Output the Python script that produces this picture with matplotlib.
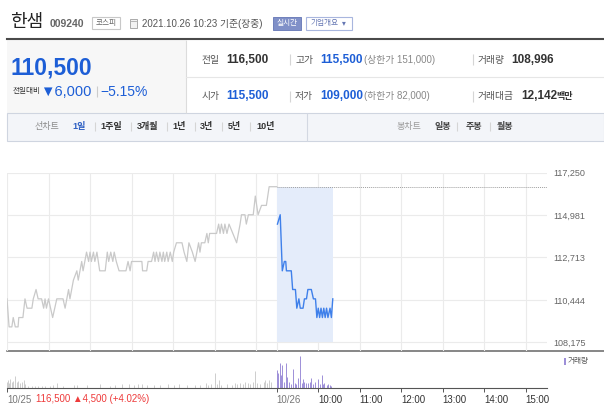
import matplotlib
matplotlib.use("Agg")
import matplotlib.pyplot as plt
from matplotlib.patches import Rectangle

plt.rcParams['font.family'] = ['Liberation Sans', 'Noto Sans CJK KR', 'DejaVu Sans']

W, H = 604, 416

# price scale (right labels) and previous close
price_ticks = [108175, 110444, 112713, 114981, 117250]
prev_close = 116500

# 10/25 session: minutes after 09:00, price
prev_min = [0, 3, 7, 9, 12, 16, 17, 23, 26, 29, 36, 38, 42, 45, 50, 53, 55, 57, 60,
            66, 69, 72, 81, 84, 89, 91, 96, 101, 103, 108, 110, 115, 118, 120, 122,
            125, 127, 130, 132, 134, 142, 145, 147, 150, 153, 155, 158, 162, 172, 175,
            178, 180, 195, 196, 202, 204, 209, 212, 214, 216, 219, 221, 224, 226, 228,
            231, 233, 236, 239, 241, 245, 253, 256, 260, 263, 268, 272, 277, 279, 281,
            286, 289, 291, 293, 303, 306, 308, 310, 313, 315, 318, 321, 332, 337, 339,
            344, 346, 349, 356, 359, 363, 368, 375, 379, 390]
prev_px = [110500, 109000, 109000, 109500, 109000, 109000, 109500, 109500, 110500, 110000,
           110000, 110500, 111000, 110500, 110500, 110000, 110500, 110000, 110500,
           109500, 110000, 110500, 110500, 110000, 111000, 110500, 111500, 112000, 111500,
           112500, 112000, 113000, 112500, 113000, 112500, 113000, 112500, 113000, 112500,
           112000, 112000, 113000, 112500, 113000, 112500, 113000, 112500, 112000, 112000,
           112500, 112000, 112500, 112500, 112000, 112000, 112500, 112500, 113000, 112500,
           113000, 112500, 113000, 112500, 113000, 112500, 113000, 112500, 113000, 112500,
           113000, 113500, 113500, 113000, 112500, 113500, 113000, 112500, 113500, 113000,
           113500, 113500, 114000, 113500, 114000, 114000, 114500, 114000, 114500, 114000,
           114500, 114000, 114500, 113500, 114500, 115000, 115000, 114500, 115000, 115000,
           116000, 115000, 115500, 115500, 116500, 116500]

# 10/26 session up to 10:23
today_min = [1, 5, 8, 11, 13, 14, 21, 23, 27, 29, 32, 34, 38, 40, 43, 45, 50, 53, 56,
             58, 60, 62, 64, 66, 68, 70, 72, 74, 77, 79, 81]
today_px = [114500, 115000, 112000, 112500, 112500, 112000, 112000, 111000, 111000,
            110000, 110500, 110000, 110000, 110500, 110500, 111000, 111000, 110500,
            110500, 109500, 110000, 109500, 110000, 109500, 110000, 109500, 110000,
            109500, 110000, 109500, 110500]

# volume (shares)
prev_vol_min = [0, 1, 3, 5, 7, 9, 12, 14, 16, 19, 22, 24, 26, 31, 36, 40, 45, 50, 55, 62,
                67, 72, 81, 97, 101, 115, 134, 149, 156, 166, 176, 183, 190, 195, 202,
                212, 221, 233, 241, 248, 260, 272, 279, 288, 291, 295, 300, 303, 306,
                310, 318, 325, 330, 333, 337, 341, 344, 349, 352, 355, 359, 362, 366,
                371, 373, 376, 379, 381]
prev_vol = [600, 800, 500, 900, 600, 700, 1200, 600, 700, 500, 600, 800, 400, 200, 200,
            200, 200, 200, 200, 200, 300, 500, 200, 300, 300, 300, 400, 200, 300, 400,
            400, 300, 400, 400, 300, 300, 300, 400, 300, 400, 300, 300, 300, 500, 300,
            400, 1500, 400, 800, 300, 400, 300, 500, 400, 500, 400, 600, 500, 400, 600,
            1700, 500, 400, 600, 800, 500, 800, 600]
today_vol_min = [0, 2, 4, 6, 8, 10, 13, 15, 18, 21, 24, 26, 28, 31, 33, 36, 38, 40, 43,
                 45, 48, 50, 53, 55, 60, 62, 65, 67, 69, 72, 74, 77, 79]
today_vol = [1800, 1500, 2500, 1300, 2300, 600, 2500, 1100, 600, 400, 1900, 500, 400,
             1000, 3200, 500, 900, 600, 500, 500, 600, 1000, 400, 600, 900, 400, 1300,
             400, 500, 300, 400, 300, 200]

grid_min = [0, 60, 120, 180, 240, 300, 360, 390, 450, 510, 570, 630, 690, 750]
x_ticks = [0, 390, 450, 510, 570, 630, 690, 750]
x_labels = ['10/25', '10/26', '10:00', '11:00', '12:00', '13:00', '14:00', '15:00']


def box(l, t, r, b):
    return [l / W, 1 - b / H, (r - l) / W, (b - t) / H]


fig = plt.figure(figsize=(W / 100, H / 100), dpi=100)
bg = fig.add_axes([0, 0, 1, 1])
bg.set_xlim(0, W)
bg.set_ylim(H, 0)
bg.axis('off')


def txt(x, y, s, size=7, color='#333333', weight='normal', ha='left'):
    bg.text(x, y, s, fontsize=size, color=color, fontweight=weight, ha=ha, va='center')


def vline(x, y0, y1, color='#d5d5d5', lw=0.8):
    bg.plot([x, x], [y0, y1], color=color, lw=lw, solid_capstyle='butt')


# ---- header ----
txt(10, 22, '한샘', size=13, color='#222222')
txt(50, 24, '009240', size=7.5, color='#666666', weight='bold')
bg.add_patch(Rectangle((92, 17), 28, 12, facecolor='white', edgecolor='#c8c8c8', lw=0.8))
txt(106, 23.5, '코스피', size=5.5, color='#666666', ha='center')
bg.add_patch(Rectangle((129.5, 18.5), 7, 9, facecolor='#f2f2f2', edgecolor='#aaaaaa', lw=0.7))
bg.plot([130.5, 135.5], [21, 21], color='#aaaaaa', lw=0.6)
txt(142, 24, '2021.10.26 10:23 기준(장중)', size=7, color='#555555')
bg.add_patch(Rectangle((273, 17), 28, 13, facecolor='#8090c8', edgecolor='#7080bb', lw=0.7))
txt(287, 23.5, '실시간', size=5.5, color='white', ha='center')
bg.add_patch(Rectangle((306, 17), 46, 13, facecolor='white', edgecolor='#a8b6de', lw=0.8))
txt(311, 23.5, '기업개요', size=5.5, color='#6577b3')
txt(342, 24, '▾', size=5.5, color='#6577b3')
bg.plot([7, W], [39, 39], color='#4a4a4a', lw=1.5)

# ---- quote panel ----
bg.add_patch(Rectangle((7, 40), 179, 73, facecolor='#f7f7f7', edgecolor='none'))
vline(186, 40, 113, color='#dcdcdc')
bg.plot([186, W], [77.3, 77.3], color='#e6e6e6', lw=0.8)
blue = '#1d5ed6'
txt(11, 68, '110,500', size=16.5, color=blue, weight='bold')
txt(12.5, 91.5, '전일대비', size=5.5, color='#333333')
txt(40, 91.5, '▼6,000', size=10.5, color=blue)
vline(96.7, 86, 97, color='#cccccc')
txt(100.5, 91.5, '−5.15%', size=10, color=blue)

row1, row2 = 59.7, 96
txt(201.5, row1, '전일', size=7, color='#555555')
txt(226.5, row1, '116,500', size=8.5, color='#333333', weight='bold')
vline(290, row1 - 5.5, row1 + 5.5)
txt(295, row1, '고가', size=7, color='#555555')
txt(320, row1, '115,500', size=8.5, color=blue, weight='bold')
txt(363.5, row1, '(상한가 151,000)', size=7, color='#888888')
vline(473, row1 - 5.5, row1 + 5.5)
txt(477.5, row1, '거래량', size=7, color='#555555')
txt(511.5, row1, '108,996', size=8.5, color='#333333', weight='bold')

txt(201.5, row2, '시가', size=7, color='#555555')
txt(226.5, row2, '115,500', size=8.5, color=blue, weight='bold')
vline(290, row2 - 5.5, row2 + 5.5)
txt(295, row2, '저가', size=7, color='#555555')
txt(320, row2, '109,000', size=8.5, color=blue, weight='bold')
txt(363.5, row2, '(하한가 82,000)', size=7, color='#888888')
vline(473, row2 - 5.5, row2 + 5.5)
txt(477.5, row2, '거래대금', size=7, color='#555555')
txt(521.5, row2, '12,142', size=8.5, color='#333333', weight='bold')
txt(556, row2, '백만', size=6.5, color='#333333', weight='bold')

# ---- tab bar ----
bg.add_patch(Rectangle((7, 113), W - 7, 27.5, facecolor='#f3f5f9', edgecolor='#cfd5e0', lw=0.8))
vline(306.7, 113, 140.5, color='#d3d8e2')
ty = 126.7
txt(35, ty, '선차트', size=6.5, color='#8a8a8a')
tabs = [(72.5, '1일'), (100, '1주일'), (136.5, '3개월'), (172, '1년'),
        (200, '3년'), (228, '5년'), (256, '10년')]
for i, (x, s) in enumerate(tabs):
    txt(x, ty, s, size=6.5, color='#2d5fc3' if i == 0 else '#333333', weight='bold')
for x in [95, 131, 167, 195, 222, 250]:
    vline(x, ty - 4.5, ty + 4.5)
txt(396.5, ty, '봉차트', size=6.5, color='#9a9a9a')
for x, s in [(435, '일봉'), (465.5, '주봉'), (497, '월봉')]:
    txt(x, ty, s, size=6.5, color='#444444', weight='bold')
for x in [457, 490]:
    vline(x, ty - 4.5, ty + 4.5)

# ---- price chart ----
bot_px, top_px = 342.3, 172.7
ext = (351 - bot_px) / (bot_px - top_px) * (price_ticks[-1] - price_ticks[0])
ax = fig.add_axes(box(7, top_px, 546.5, 351))
ax.set_facecolor('none')
ax.set_xlim(0, 780)
ax.set_ylim(price_ticks[0] - ext, price_ticks[-1])
for s in ax.spines.values():
    s.set_visible(False)
ax.set_xticks(grid_min)
ax.set_yticks(price_ticks, [f"{v:,}" for v in price_ticks])
ax.yaxis.tick_right()
ax.tick_params(axis='x', length=0, labelbottom=False)
ax.tick_params(axis='y', length=0, pad=4.7, labelsize=6.5, labelcolor='#666666')
ax.grid(True, color='#ebebeb', lw=0.8)
ax.set_axisbelow(True)

t_today = [390 + m for m in today_min]
ax.fill_between([390, t_today[-1]], price_ticks[0], prev_close, color='#e4ecfa', lw=0)
ax.plot([390, 780], [prev_close, prev_close], color='#a0a0a0', lw=0.7, ls=(0, (1, 1)))
ax.plot(prev_min, prev_px, color='#c9c9c9', lw=0.9)
ax.plot(t_today, today_px, color='#3f80ea', lw=1.0)

# separator between price and volume
bg.plot([7, W], [351, 351], color='#666666', lw=1.1)

# ---- volume chart ----
vax = fig.add_axes(box(7, 351, 546.5, 387.7))
vax.set_facecolor('none')
vax.set_xlim(0, 780)
vax.set_ylim(0, 3670)
for k in ['top', 'right', 'left']:
    vax.spines[k].set_visible(False)
vax.spines['bottom'].set_color('#555555')
vax.spines['bottom'].set_linewidth(0.8)
vax.vlines(prev_vol_min, 0, prev_vol, color='#cdcdcd', lw=0.7)
vax.vlines(t_today[:0] + [390 + m for m in today_vol_min], 0, today_vol, color='#9d8fd8', lw=0.7)
vax.set_yticks([])
vax.set_xticks(x_ticks, x_labels)
vax.tick_params(axis='x', length=3, width=0.7, color='#555555', pad=2.5,
                labelsize=7, labelcolor='#333333')
for i, lab in enumerate(vax.get_xticklabels()):
    lab.set_ha('left')
    lab.set_x(lab.get_position()[0])
    if i < 2:
        lab.set_color('#777777')

txt(36, 398.5, '116,500 ▲4,500 (+4.02%)', size=7, color='#ee3b3b')
bg.add_patch(Rectangle((564, 358), 2.2, 6.5, facecolor='#9d8fd8', edgecolor='none'))
txt(568, 361.5, '거래량', size=5.5, color='#555555')

fig.savefig('out.png', dpi=100)
